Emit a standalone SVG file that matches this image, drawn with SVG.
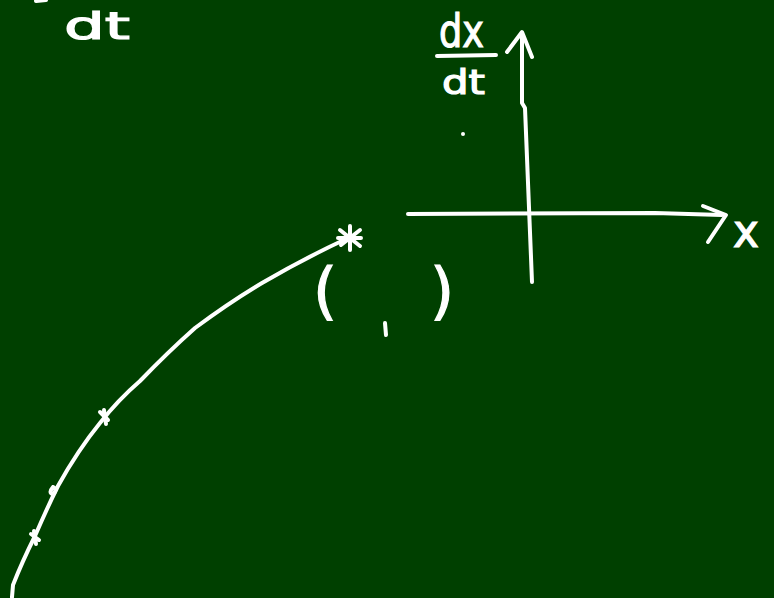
<svg xmlns="http://www.w3.org/2000/svg" width="774" height="598" viewBox="0 0 774 598">
<style>
.s{fill:none;stroke:#fff;stroke-width:4;stroke-linecap:round;stroke-linejoin:round}
.t{fill:#fff;stroke:#fff;stroke-width:1.2;font-family:"DejaVu Sans",sans-serif}
</style>
<rect width="774" height="598" fill="#004000"/>
<g id="top-left-label">
<path class="s" d="M36 1 L46 0"/>
<text class="t" x="64" y="39" font-size="38" textLength="66" lengthAdjust="spacingAndGlyphs">dt</text>
</g>
<g id="axis-label">
<text class="t" x="439" y="47" font-size="46" textLength="45" lengthAdjust="spacingAndGlyphs">dx</text>
<path class="s" d="M437 56 L496 55"/>
<text class="t" x="442" y="94" font-size="34" textLength="43" lengthAdjust="spacingAndGlyphs">dt</text>
<circle cx="463" cy="134" r="2" fill="#fff"/>
</g>
<g id="axes">
<path class="s" d="M522 34 L522 103 L525 108 L532 282"/>
<path class="s" d="M507 52 L522 32 L532 57"/>
<path class="s" d="M408 214 L655 213 L722 215"/>
<path class="s" d="M703 206 L726 215 L708 242"/>
<text class="t" x="733" y="247" font-size="46" textLength="26" lengthAdjust="spacingAndGlyphs">x</text>
</g>
<g id="curve">
<path class="s" d="M12 597 L13 585 Q22 562 35 536 Q48 506 58 486 Q78 450 100 423 Q118 400 140 381 Q168 352 195 328 Q230 302 262 283 Q305 258 346 239"/>
<path class="s" d="M100 412 L108 420 M104 410 L106 424"/>
<path class="s" d="M53 487 Q48 493 53 494 Q58 490 53 487"/>
<path class="s" d="M31 534 L39 540 M34 531 L36 544"/>
</g>
<g id="point">
<path class="s" d="M340 230 L360 246 M341 245 L360 230 M350 226 L350 250 M338 238 L361 238"/>
<text class="t" x="313" y="312" font-size="62">(</text>
<path class="s" d="M385 323 L386 335"/>
<text class="t" x="430" y="312" font-size="62">)</text>
</g>
</svg>
